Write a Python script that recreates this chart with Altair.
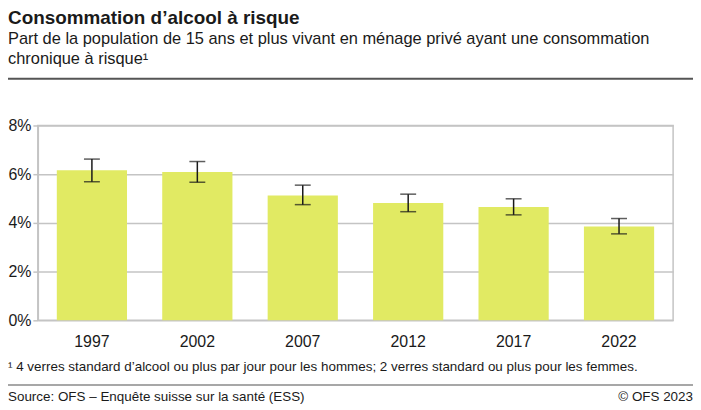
import altair as alt
import pandas as pd

years = ["1997", "2002", "2007", "2012", "2017", "2022"]
values = [6.16, 6.09, 5.13, 4.82, 4.65, 3.85]
lower = [5.69, 5.67, 4.75, 4.46, 4.33, 3.55]
upper = [6.62, 6.52, 5.55, 5.18, 4.99, 4.18]
y_ticks = [0, 2, 4, 6, 8]

title = "Consommation d’alcool à risque"
subtitle = ["Part de la population de 15 ans et plus vivant en ménage privé ayant une consommation",
            "chronique à risque¹"]
footnote = "¹ 4 verres standard d’alcool ou plus par jour pour les hommes; 2 verres standard ou plus pour les femmes."
source = "Source: OFS – Enquête suisse sur la santé (ESS)"
copyright_txt = "© OFS 2023"

df = pd.DataFrame({"year": years, "value": values, "lo": lower, "hi": upper})

FONT = "Liberation Sans"
TXT = "#1a1a1a"
GRID = "#c4c4c4"
PL = 30  # left padding

xenc = alt.X("year:N", sort=years, title=None,
             scale=alt.Scale(paddingInner=0.334, paddingOuter=0.18),
             axis=alt.Axis(labelAngle=0, ticks=False, domain=False, grid=False, labelFontSize=16,
                           labelFont=FONT, labelColor=TXT, labelPadding=13))
yscale = alt.Scale(domain=[0, 8], nice=False)
yaxis = alt.Axis(values=y_ticks, labelExpr="datum.value + '%'", title=None, grid=True,
                 labelFontSize=16, labelFont=FONT, labelColor=TXT, labelPadding=2,
                 tickSize=5, tickColor=GRID, tickWidth=1.5, domainColor=GRID, domainWidth=1.5,
                 gridColor=GRID, gridWidth=1.5)

base = alt.Chart(df)
bars = base.mark_bar(color="#e1ea63").encode(
    x=xenc, y=alt.Y("value:Q", scale=yscale, axis=yaxis))
rules = base.mark_rule(color="#1a1a1a", strokeWidth=1.5).encode(
    x=alt.X("year:N", sort=years), y=alt.Y("lo:Q", scale=yscale), y2="hi:Q")
caps_hi = base.mark_tick(color="#1a1a1a", thickness=1.5, size=16).encode(
    x=alt.X("year:N", sort=years), y=alt.Y("hi:Q", scale=yscale))
caps_lo = base.mark_tick(color="#1a1a1a", thickness=1.5, size=16).encode(
    x=alt.X("year:N", sort=years), y=alt.Y("lo:Q", scale=yscale))

one = alt.Data(values=[{"a": 1}])


def txt(s, x, y, size, weight="normal", align="left"):
    return alt.Chart(one).mark_text(align=align, baseline="alphabetic", font=FONT,
                                    fontSize=size, fontWeight=weight, color=TXT).encode(
        x=alt.value(x), y=alt.value(y), text=alt.value(s))


def hline(y, color, w):
    return alt.Chart(one).mark_rule(color=color, strokeWidth=w).encode(
        x=alt.value(-PL), x2=alt.value(659), y=alt.value(y))


texts = [
    txt(title, -PL, -102, 19, "bold"),
    txt(subtitle[0], -PL, -81.5, 16.5),
    txt(subtitle[1], -PL, -61.5, 16.5),
    hline(-47, "#555555", 2),
    txt(footnote, -PL, 247, 13.5),
    hline(261, "#8a8a8a", 1.5),
    txt(source, -PL, 277, 13.5),
    txt(copyright_txt, 659, 277, 13.5, align="right"),
]

chart = alt.layer(bars, rules, caps_hi, caps_lo, *texts).properties(
    width=639, height=196,
    autosize=alt.AutoSizeParams(type="none"),
    padding={"left": PL, "top": 117, "right": 20, "bottom": 85},
).configure_view(stroke=GRID, strokeWidth=1.5)

chart.save("out.html", embed_options={"renderer": "svg", "actions": False})
